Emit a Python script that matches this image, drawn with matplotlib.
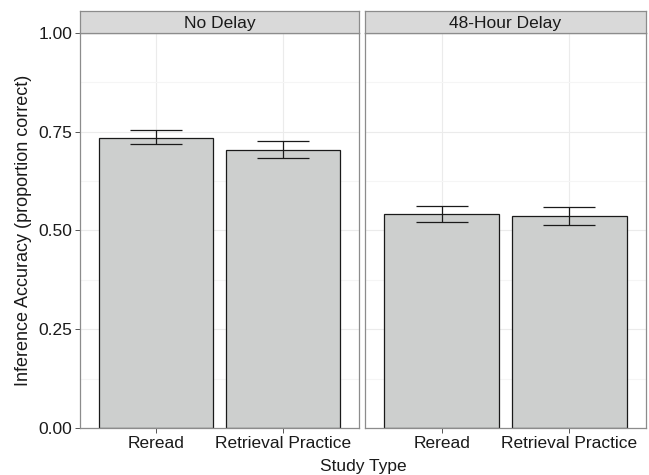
import numpy as np
import matplotlib
matplotlib.use("Agg")
import matplotlib.pyplot as plt

plt.rcParams['font.family'] = ['Liberation Sans', 'DejaVu Sans']

# accuracy per delay condition and study type
panels = ["No Delay", "48-Hour Delay"]
study_types = ["Reread", "Retrieval Practice"]
mean_acc = [[0.735, 0.705], [0.542, 0.537]]
err_low = [[0.718, 0.684], [0.521, 0.515]]
err_high = [[0.754, 0.727], [0.563, 0.560]]
yticks = [0.00, 0.25, 0.50, 0.75, 1.00]

W, H = 649, 475
fig = plt.figure(figsize=(W / 100, H / 100), dpi=100)

panel_x = [(80, 359), (365, 646)]
ybot, ytop = 428, 33
strip_top = 11
fs = 12.5

border = "#8c8c8c"
for k, (x0, x1) in enumerate(panel_x):
    ax = fig.add_axes([x0 / W, 1 - ybot / H, (x1 - x0) / W, (ybot - ytop) / H])
    x = np.arange(1, len(study_types) + 1)
    ax.bar(x, mean_acc[k], width=0.9, color="#cdcfce", edgecolor="#1a1a1a",
           linewidth=0.9, zorder=2)
    lo = np.array(mean_acc[k]) - np.array(err_low[k])
    hi = np.array(err_high[k]) - np.array(mean_acc[k])
    ax.errorbar(x, mean_acc[k], yerr=[lo, hi], fmt="none", ecolor="#1a1a1a",
                elinewidth=0.9, capsize=19, capthick=0.9, zorder=3)
    ax.set_xlim(0.4, 2.6)
    ax.set_ylim(0, 1.0)
    ax.set_xticks(x)
    ax.set_xticklabels(study_types, fontsize=fs, color="#1a1a1a")
    ax.set_yticks(yticks)
    ax.set_yticks([0.125, 0.375, 0.625, 0.875], minor=True)
    ax.grid(True, which="major", color="#ebebeb", linewidth=0.8, zorder=0)
    ax.grid(True, which="minor", axis="y", color="#f5f5f5", linewidth=0.8, zorder=0)
    ax.set_axisbelow(True)
    ax.tick_params(which="minor", length=0)
    ax.tick_params(which="major", length=3.5, color="#555555", width=0.7, pad=2)
    if k == 0:
        ax.set_yticklabels(["%.2f" % v for v in yticks], fontsize=fs, color="#1a1a1a")
        ax.set_ylabel("Inference Accuracy (proportion correct)", fontsize=13,
                      color="#1a1a1a", labelpad=5)
    else:
        ax.tick_params(axis="y", left=False, labelleft=False)
    for s in ax.spines.values():
        s.set_color(border)
        s.set_linewidth(0.9)

    # facet strip
    sax = fig.add_axes([x0 / W, 1 - ytop / H, (x1 - x0) / W, (ytop - strip_top) / H])
    sax.set_facecolor("#d9d9d9")
    sax.set_xticks([])
    sax.set_yticks([])
    for s in sax.spines.values():
        s.set_color(border)
        s.set_linewidth(0.9)
    sax.text(0.5, 0.45, panels[k], ha="center", va="center", fontsize=fs,
             color="#1a1a1a", transform=sax.transAxes)

fig.text((80 + 646) / 2 / W, 1 - 466 / H, "Study Type", ha="center", va="center",
         fontsize=fs, color="#1a1a1a")

fig.savefig("out.png", dpi=100)
